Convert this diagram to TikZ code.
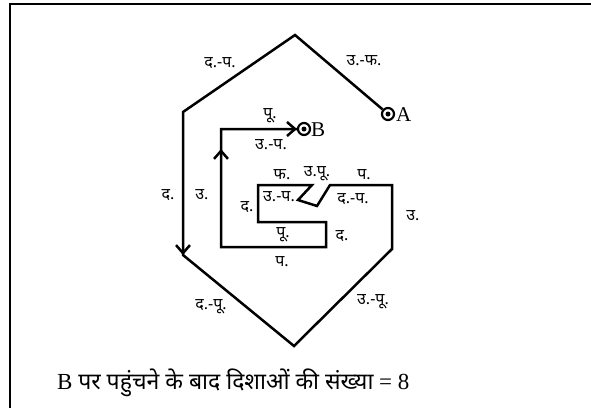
\documentclass[tikz,border=0pt]{standalone}
\usepackage{fontspec}
\setmainfont{Liberation Serif}
\newfontfamily\dev[Script=Devanagari]{Noto Sans}
\usetikzlibrary{arrows.meta}
\begin{document}
\begin{tikzpicture}[x=1pt,y=-1pt,
  route/.style={line width=2.5pt, line join=miter, line cap=butt},
  tip/.style={line width=2.5pt, -{Straight Barb[length=8pt,width=14pt,line width=2.5pt]}},
  lbl/.style={font=\dev\fontsize{16}{18}\selectfont, inner sep=0pt},
  pt/.style={circle, draw, line width=2.2pt, minimum size=12pt, inner sep=0pt},
  dotc/.style={circle, fill, minimum size=5pt, inner sep=0pt},
  letter/.style={font=\fontsize{21}{22}\selectfont, inner sep=0pt}]
\useasboundingbox (0,0) rectangle (591,407);
\draw[line width=2.4pt] (10,408) -- (10,4) -- (592,4);
% points
\node[pt] (A) at (388,114) {};
\node[dotc] at (A) {};
\node[pt] (B) at (304,129) {};
\node[dotc] at (B) {};
\node[letter, anchor=west] (la) at (396,115) {A};
\node[letter, anchor=west] (lb) at (311,130) {B};
\coordinate (T) at (295,35);
\coordinate (L1) at (183,112);
\coordinate (L2) at (183,255);
\coordinate (Bt) at (294,346);
\coordinate (R2) at (392,249);
\coordinate (R1) at (392,185);
\coordinate (Z1) at (330,185);
\coordinate (Z2) at (317,206);
\coordinate (Z3) at (298,200);
\coordinate (Z4) at (312,185);
\coordinate (I1) at (258,185);
\coordinate (I2) at (258,222);
\coordinate (I3) at (326,222);
\coordinate (I4) at (326,247);
\coordinate (I5) at (221,247);
\coordinate (I6) at (221,129);
\coordinate (a1) at (183,235);
\coordinate (a2) at (221,170);
\coordinate (a3) at (221,149);
\coordinate (a4) at (280,129);
\draw[route] (A) -- (T) -- (L1) -- (L2) -- (Bt) -- (R2) -- (R1) -- (Z1) -- (Z2) -- (Z3) -- (Z4) -- (I1) -- (I2) -- (I3) -- (I4) -- (I5) -- (I6) -- (B);
\draw[tip] (a1) -- (L2);
\draw[tip] (a2) -- (a3);
\draw[tip] (a4) -- (B);
% labels
\node[lbl] (t1) at (220,63) {द.-प.};
\node[lbl] (t2) at (364,61) {उ.-फ.};
\node[lbl] (t3) at (270,116) {पू.};
\node[lbl] (t4) at (271,145) {उ.-प.};
\node[lbl] (t5) at (168,195) {द.};
\node[lbl] (t6) at (202,195) {उ.};
\node[lbl] (t7) at (282,175) {फ.};
\node[lbl] (t8) at (317,174) {उ.पू.};
\node[lbl] (t9) at (364,175) {प.};
\node[lbl] (t10) at (279,197) {उ.-प.};
\node[lbl] (t11) at (353,199) {द.-प.};
\node[lbl] (t12) at (247,207) {द.};
\node[lbl] (t13) at (413,216) {उ.};
\node[lbl] (t14) at (283,235) {पू.};
\node[lbl] (t15) at (342,236) {द.};
\node[lbl] (t16) at (282,262) {प.};
\node[lbl] (t17) at (211,307) {द.-पू.};
\node[lbl] (t18) at (373,302) {उ.-पू.};
\node[anchor=west, inner sep=0pt, font=\fontsize{23}{26}\selectfont] (cap) at (57,383) {B {\dev पर पहुंचने के बाद दिशाओं की संख्या} = 8};
\end{tikzpicture}
\end{document}
